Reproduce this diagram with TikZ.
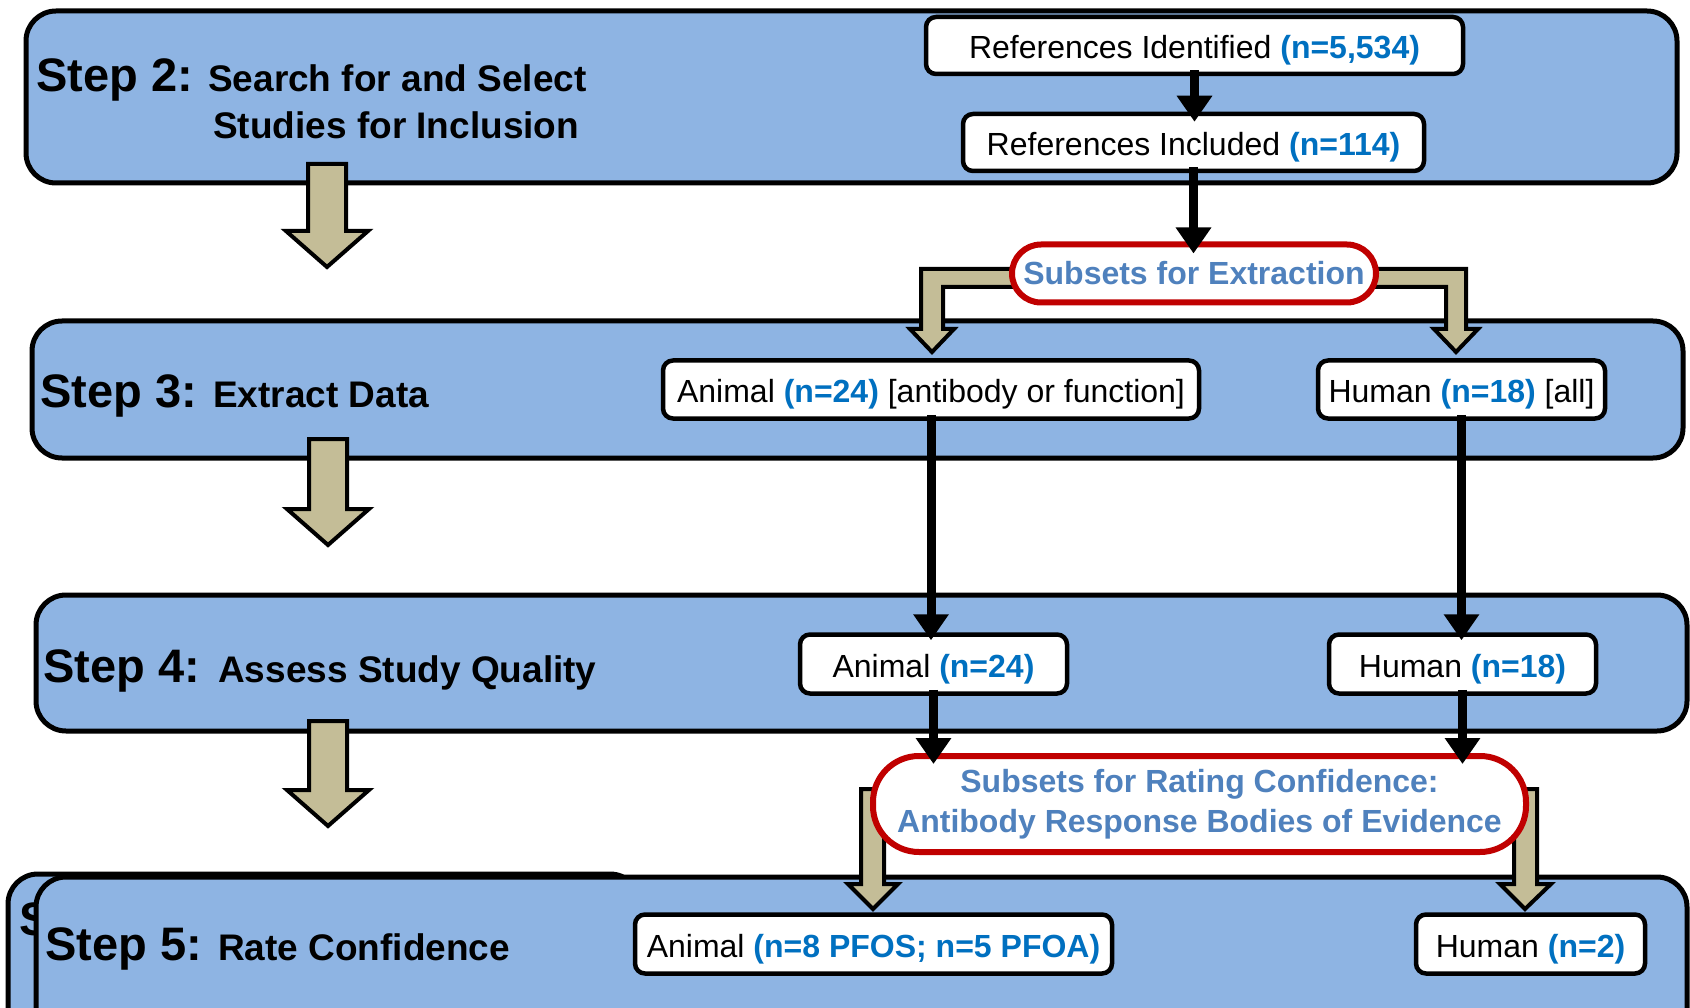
\documentclass[tikz,border=0pt]{standalone}
\usepackage{fontspec}
\setmainfont{Liberation Sans}
\usetikzlibrary{arrows.meta,calc}
\definecolor{stepfill}{HTML}{8EB4E3}
\definecolor{tanfill}{HTML}{C4BD97}
\definecolor{redline}{HTML}{C00000}
\definecolor{nblue}{HTML}{0070C0}
\definecolor{subblue}{HTML}{4F81BD}
\newcommand{\nb}[1]{\textcolor{nblue}{\bfseries #1}}

\begin{document}
\begin{tikzpicture}[x=1pt,y=-1pt,
  stepbox/.style={draw=black, line width=5pt, fill=stepfill, rounded corners=30pt},
  inbox/.style={draw=black, line width=4.5pt, fill=white, rounded corners=10pt,
    inner sep=0pt, text height=26pt, text depth=0pt, font=\fontsize{32}{38}\selectfont},
  subbox/.style={draw=redline, line width=6pt, fill=white, inner sep=0pt, align=center,
    font=\fontsize{32}{40}\selectfont\bfseries, text=subblue},
  tanarrow/.style={draw=black, line width=4pt, fill=tanfill, line join=miter},
  blk/.style={line width=9pt, -{Triangle[length=26pt 0 0, width=34pt 0 0]}},
  stepnum/.style={anchor=base west, inner sep=0pt, font=\fontsize{47}{50}\selectfont\bfseries},
  steptxt/.style={anchor=base west, inner sep=0pt, font=\fontsize{37}{46}\selectfont\bfseries},
]
\useasboundingbox (0,0) rectangle (1690,1008);
\clip (0,0) rectangle (1690,1008);
\fill[white] (0,0) rectangle (1690,1008);

% step bands
\path[stepbox] (26,11) rectangle (1677,183);
\path[stepbox] (32,321) rectangle (1683,458);
\path[stepbox] (36,595) rectangle (1687,731);
\path[stepbox] (8,874) rectangle (640,1060);
\node[stepnum] (s5back) at (19,935) {S};
\path[stepbox] (36,877) rectangle (1687,1060);

% step titles
\node[stepnum] (s2num) at (36,92) {Step 2:};
\node[steptxt] (s2a) at (208,92) {Search for and Select};
\node[steptxt] (s2b) at (213,139) {Studies for Inclusion};
\node[stepnum] (s3num) at (40,407) {Step 3:};
\node[steptxt] (s3a) at (213,407) {Extract Data};
\node[stepnum] (s4num) at (43,682) {Step 4:};
\node[steptxt] (s4a) at (218,682) {Assess Study Quality};
\node[stepnum] (s5num) at (45,960) {Step 5:};
\node[steptxt] (s5a) at (218,960) {Rate Confidence};

% large arrows between steps
\foreach \c/\t/\T in {327/164/267, 328/439/545, 328/721/826}{
  \path[tanarrow] (\c-19,\t) -- (\c+19,\t) -- (\c+19,\T-36) -- (\c+41,\T-36)
    -- (\c,\T) -- (\c-41,\T-36) -- (\c-19,\T-36) -- cycle;
}

% split arrows below the extraction subsets
\path[tanarrow] (1030,269) -- (921,269) -- (921,329) -- (910,329) -- (932,352)
  -- (954,329) -- (943,329) -- (943,287) -- (1030,287) -- cycle;
\path[tanarrow] (1360,269) -- (1466,269) -- (1466,329) -- (1478,329) -- (1456,352)
  -- (1434,329) -- (1446,329) -- (1446,287) -- (1360,287) -- cycle;

% arrows below the rating subsets
\path[tanarrow] (861,789) -- (884,789) -- (884,884) -- (898,884) -- (873,909)
  -- (848,884) -- (861,884) -- cycle;
\path[tanarrow] (1514,789) -- (1537,789) -- (1537,884) -- (1551,884) -- (1525,909)
  -- (1500,884) -- (1514,884) -- cycle;

% boxes
\node[inbox, minimum width=537pt, minimum height=57pt] (ri) at (1194.5,45.5)
  {References Identified \nb{(n=5,534)}};
\node[inbox, minimum width=461pt, minimum height=57pt] (rin) at (1193.5,142.5)
  {References Included \nb{(n=114)}};
\node[subbox, rounded corners=29pt, minimum width=364pt, minimum height=58pt] (subex) at (1194,273.5)
  {Subsets for Extraction};
\node[inbox, minimum width=536pt, minimum height=58pt] (a3) at (931,389.5)
  {Animal \nb{(n=24)} [antibody or function]};
\node[inbox, minimum width=287pt, minimum height=58pt] (h3) at (1461.5,389.5)
  {Human \nb{(n=18)} [all]};
\node[inbox, minimum width=267pt, minimum height=59pt] (a4) at (933.5,664)
  {Animal \nb{(n=24)}};
\node[inbox, minimum width=267pt, minimum height=59pt] (h4) at (1462.5,664)
  {Human \nb{(n=18)}};
\node[subbox, rounded corners=46pt, minimum width=653pt, minimum height=96pt] (rate) at (1199.5,804)
  {Subsets for Rating Confidence:\\Antibody Response Bodies of Evidence};
\node[inbox, minimum width=477pt, minimum height=59pt] (a5) at (873.5,944)
  {Animal \nb{(n=8 PFOS; n=5 PFOA)}};
\node[inbox, minimum width=229pt, minimum height=59pt] (h5) at (1530.5,944)
  {Human \nb{(n=2)}};

% black connectors
\draw[blk] ($(ri.south)+(0,-6)$) -- ($(ri.south |- rin.north)+(0,10)$);
\draw[blk] ($(rin.south)+(0,-6)$) -- ($(rin.south |- subex.north)+(0,12)$);
\draw[blk] ($(a3.south)+(0,-6)$) -- ($(a3.south |- a4.north)+(0,8)$);
\draw[blk] ($(h3.south)+(0,-6)$) -- ($(h3.south |- h4.north)+(0,8)$);
\draw[blk] ($(a4.south)+(0,-6)$) -- ($(a4.south |- rate.north)+(0,11)$);
\draw[blk] ($(h4.south)+(0,-6)$) -- ($(h4.south |- rate.north)+(0,11)$);
\end{tikzpicture}
\end{document}
